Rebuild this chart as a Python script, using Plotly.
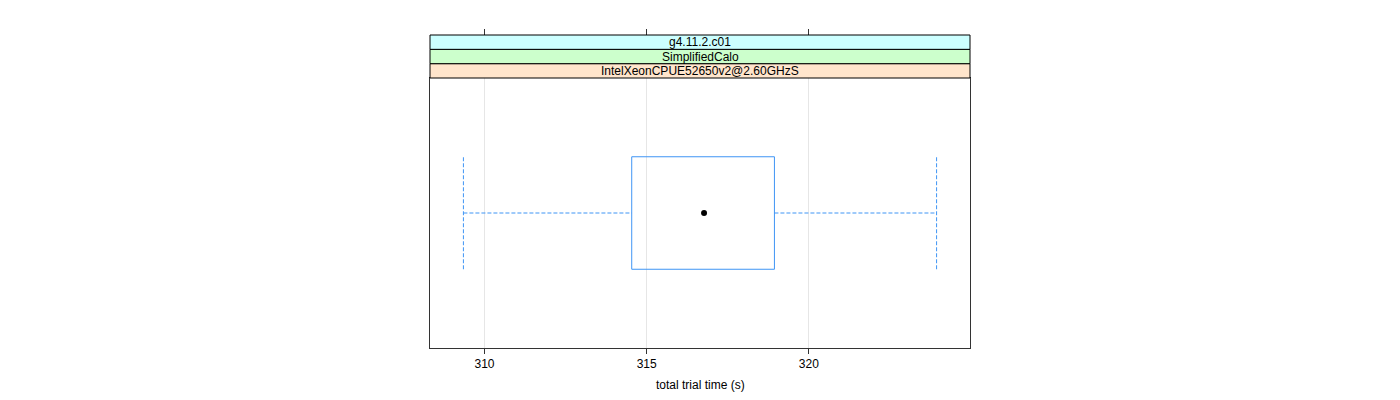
import plotly.graph_objects as go

# data
strip_labels = ["IntelXeonCPUE52650v2@2.60GHzS", "SimplifiedCalo", "g4.11.2.c01"]
strip_colors = ["#ffe5cc", "#ccffcc", "#ccffff"]
whisker_low = 309.35
q1 = 314.54
median = 316.77
q3 = 318.94
whisker_high = 323.94
x_ticks = [310, 315, 320]
x_range = [308.32, 324.97]
x_title = "total trial time (s)"
y_pos = 1.0
box_half = 0.25

blue = "#3f95f5"
fig = go.Figure()

# box rectangle
fig.add_trace(go.Scatter(
    x=[q1, q3, q3, q1, q1],
    y=[y_pos - box_half, y_pos - box_half, y_pos + box_half, y_pos + box_half, y_pos - box_half],
    mode="lines", line=dict(color=blue, width=1), hoverinfo="skip", showlegend=False))
# whiskers (dashed)
for xa, xb in [(whisker_low, q1), (q3, whisker_high)]:
    fig.add_trace(go.Scatter(x=[xa, xb], y=[y_pos, y_pos], mode="lines",
                             line=dict(color=blue, width=1, dash="4px,2px"),
                             hoverinfo="skip", showlegend=False))
for xc in [whisker_low, whisker_high]:
    fig.add_trace(go.Scatter(x=[xc, xc], y=[y_pos - box_half, y_pos + box_half], mode="lines",
                             line=dict(color=blue, width=1, dash="4px,2px"),
                             hoverinfo="skip", showlegend=False))
# median dot
fig.add_trace(go.Scatter(x=[median], y=[y_pos], mode="markers",
                         marker=dict(color="black", size=6), showlegend=False))
# dummy trace for top axis
fig.add_trace(go.Scatter(x=x_range, y=[y_pos, y_pos], xaxis="x2", mode="lines",
                         line=dict(width=0), hoverinfo="skip", showlegend=False, opacity=0))

plot_top = 20
plot_bottom = 348
H = plot_bottom - plot_top
def py2paper(py):
    return (plot_bottom - py) / H

panel_top_px = 78
strip_h = 14.33
font = dict(family="Liberation Sans, Arial, sans-serif", size=12, color="black")

shapes = []
annotations = []
for i, (lab, col) in enumerate(zip(strip_labels, strip_colors)):
    y0 = py2paper(panel_top_px - i * strip_h)
    y1 = py2paper(panel_top_px - (i + 1) * strip_h)
    shapes.append(dict(type="rect", xref="paper", yref="paper", x0=0, x1=1, y0=y0, y1=y1,
                       fillcolor=col, line=dict(color="black", width=1), layer="above"))
    annotations.append(dict(xref="paper", yref="paper", x=0.5, y=(y0 + y1) / 2, text=lab,
                            showarrow=False, font=font, xanchor="center", yanchor="middle"))
annotations.append(dict(xref="paper", yref="paper", x=0.5, y=py2paper(385), text=x_title,
                        showarrow=False, font=font, xanchor="center", yanchor="middle"))

fig.update_layout(
    width=1400, height=400,
    margin=dict(l=430, r=430, t=plot_top, b=400 - plot_bottom, autoexpand=False),
    plot_bgcolor="white", paper_bgcolor="white",
    font=font,
    shapes=shapes, annotations=annotations,
    xaxis=dict(range=x_range, tickvals=x_ticks, ticks="outside", ticklen=5, tickcolor="#333",
               showline=True, linecolor="#333", linewidth=1, mirror=True, automargin=False,
               showgrid=True, gridcolor="#e6e6e6", gridwidth=1, zeroline=False,
               tickfont=font),
    xaxis2=dict(range=x_range, tickvals=x_ticks, ticks="outside", ticklen=6, tickcolor="#333",
                showticklabels=False, overlaying="x", side="top", anchor="free",
                position=py2paper(panel_top_px - 3 * strip_h), showgrid=False, zeroline=False,
                showline=False, automargin=False),
    yaxis=dict(range=[0.4, 1.6], domain=[0, py2paper(panel_top_px)], showticklabels=False,
               ticks="", showgrid=False, zeroline=False, automargin=False,
               showline=True, linecolor="#333", linewidth=1, mirror=True),
)

fig.write_html("out.html")
